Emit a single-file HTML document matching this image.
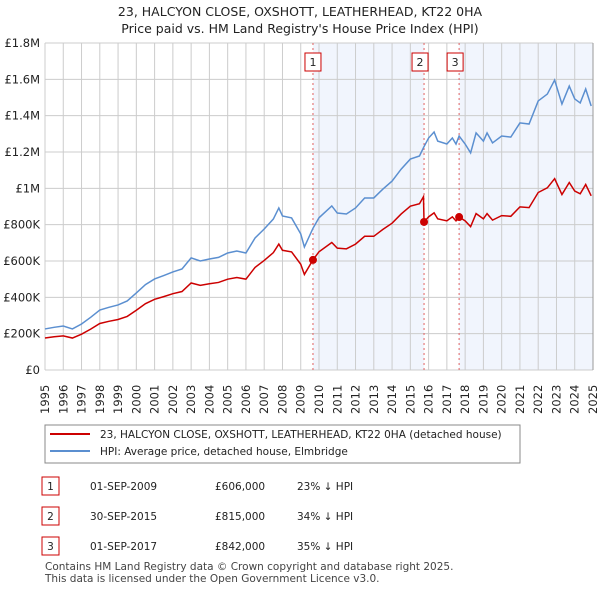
<!DOCTYPE html>
<html><head><meta charset="utf-8"><style>
body{margin:0;background:#fff;font-family:"DejaVu Sans","Liberation Sans",sans-serif;}
svg text{font-family:"DejaVu Sans","Liberation Sans",sans-serif;}
</style></head><body>
<svg id="chart" width="600" height="590" viewBox="0 0 600 590" xmlns="http://www.w3.org/2000/svg">
<text x="300" y="16" text-anchor="middle" font-size="12.5" fill="#222">23, HALCYON CLOSE, OXSHOTT, LEATHERHEAD, KT22 0HA</text>
<text x="300" y="33" text-anchor="middle" font-size="12.5" fill="#222">Price paid vs. HM Land Registry's House Price Index (HPI)</text>
<g id="plot"></g>
<g>
<rect x="45" y="425" width="475" height="38" fill="#fff" stroke="#888"/>
<line x1="50" y1="434" x2="90" y2="434" stroke="#cc0000" stroke-width="2"/>
<text x="100" y="438" font-size="10.5" fill="#222">23, HALCYON CLOSE, OXSHOTT, LEATHERHEAD, KT22 0HA (detached house)</text>
<line x1="50" y1="451" x2="90" y2="451" stroke="#5b8fd0" stroke-width="2"/>
<text x="100" y="455" font-size="10.5" fill="#222">HPI: Average price, detached house, Elmbridge</text>
</g>
<g font-size="10.5" fill="#222">
<rect x="42" y="477" width="17" height="18" fill="#fff" stroke="#cc0000"/><text x="50.5" y="490" text-anchor="middle">1</text>
<text x="90" y="490">01-SEP-2009</text><text x="215" y="490">£606,000</text><text x="297" y="490">23% ↓ HPI</text>
<rect x="42" y="507" width="17" height="18" fill="#fff" stroke="#cc0000"/><text x="50.5" y="520" text-anchor="middle">2</text>
<text x="90" y="520">30-SEP-2015</text><text x="215" y="520">£815,000</text><text x="297" y="520">34% ↓ HPI</text>
<rect x="42" y="537" width="17" height="18" fill="#fff" stroke="#cc0000"/><text x="50.5" y="550" text-anchor="middle">3</text>
<text x="90" y="550">01-SEP-2017</text><text x="215" y="550">£842,000</text><text x="297" y="550">35% ↓ HPI</text>
</g>
<text x="45" y="570" font-size="10.5" fill="#444">Contains HM Land Registry data © Crown copyright and database right 2025.</text>
<text x="45" y="582" font-size="10.5" fill="#444">This data is licensed under the Open Government Licence v3.0.</text>
</svg>
<script>
const hpiYears=[1995.0,1995.5,1996.0,1996.5,1997.0,1997.5,1998.0,1998.5,1999.0,1999.5,2000.0,2000.5,2001.0,2001.5,2002.0,2002.5,2003.0,2003.5,2004.0,2004.5,2005.0,2005.5,2006.0,2006.5,2007.0,2007.5,2007.8,2008.0,2008.5,2009.0,2009.2,2009.67,2010.0,2010.7,2011.0,2011.5,2012.0,2012.5,2013.0,2013.5,2014.0,2014.5,2015.0,2015.5,2015.74,2016.0,2016.3,2016.5,2017.0,2017.3,2017.5,2017.67,2018.0,2018.3,2018.6,2019.0,2019.2,2019.5,2020.0,2020.5,2021.0,2021.5,2022.0,2022.5,2022.9,2023.3,2023.7,2024.0,2024.3,2024.6,2024.9];
const hpiValues=[226,235,242,226,253,290,330,345,358,380,424,470,501,520,540,556,617,600,611,620,644,655,644,727,776,831,892,848,837,749,677,780,838,903,864,859,892,947,947,996,1040,1106,1161,1178,1228,1277,1310,1260,1244,1277,1244,1288,1244,1195,1305,1260,1305,1250,1288,1282,1360,1354,1481,1519,1596,1464,1563,1492,1470,1547,1453];
const priceYears=[1995.0,1995.5,1996.0,1996.5,1997.0,1997.5,1998.0,1998.5,1999.0,1999.5,2000.0,2000.5,2001.0,2001.5,2002.0,2002.5,2003.0,2003.5,2004.0,2004.5,2005.0,2005.5,2006.0,2006.5,2007.0,2007.5,2007.8,2008.0,2008.5,2009.0,2009.2,2009.67,2010.0,2010.7,2011.0,2011.5,2012.0,2012.5,2013.0,2013.5,2014.0,2014.5,2015.0,2015.5,2015.72,2015.75,2016.0,2016.3,2016.5,2017.0,2017.3,2017.5,2017.67,2018.0,2018.3,2018.6,2019.0,2019.2,2019.5,2020.0,2020.5,2021.0,2021.5,2022.0,2022.5,2022.9,2023.3,2023.7,2024.0,2024.3,2024.6,2024.9];
const priceValues=[176,183,188,176,197,225,256,268,278,295,329,365,389,404,420,432,479,466,475,482,500,509,500,565,603,646,693,659,650,582,526,606,651,702,671,667,693,736,736,774,808,859,902,915,954,815,843,865,832,821,843,821,842,821,789,861,832,861,825,850,846,898,894,977,1003,1053,966,1032,985,970,1021,959];
const saleLabels=["1","2","3"];
const saleYears=[2009.67,2015.75,2017.67];
const saleValues=[606,815,842];
const yTicks=[0,200,400,600,800,1000,1200,1400,1600,1800];
const yTickLabels=["£0","£200K","£400K","£600K","£800K","£1M","£1.2M","£1.4M","£1.6M","£1.8M"];
const xTicks=[1995,1996,1997,1998,1999,2000,2001,2002,2003,2004,2005,2006,2007,2008,2009,2010,2011,2012,2013,2014,2015,2016,2017,2018,2019,2020,2021,2022,2023,2024,2025];

const NS="http://www.w3.org/2000/svg";
const X0=45,X1=593,Y0=370,Y1=43;
const xs=y=>X0+(y-1995)/(2025-1995)*(X1-X0);
const ys=v=>Y0-v/1800*(Y0-Y1);
const plot=document.getElementById('plot');
function mk(tag,attrs,parent){const e=document.createElementNS(NS,tag);for(const k in attrs)e.setAttribute(k,attrs[k]);(parent||plot).appendChild(e);return e;}
// shading
[[0,1],[2,null]].forEach(([a,b])=>{
  const r=mk('rect',{x:xs(saleYears[a]),y:Y1,width:(b===null?X1:xs(saleYears[b]))-xs(saleYears[a]),height:Y0-Y1,fill:'#eef3fc',opacity:0.8});
  
  
});
yTicks.forEach((t,i)=>{
  const l=mk('line',{x1:X0,x2:X1,y1:ys(t),y2:ys(t),stroke:'#cccccc','stroke-width':1});
  
  
  const tx=mk('text',{x:40,y:ys(t)+4,'text-anchor':'end','font-size':11.5,fill:'#222'});
  tx.textContent=yTickLabels[i];
  
  
});
xTicks.forEach(t=>{
  const l=mk('line',{x1:xs(t),x2:xs(t),y1:Y1,y2:Y0,stroke:'#cccccc','stroke-width':1});
  
  
  const tx=mk('text',{x:0,y:0,transform:`translate(${xs(t)+4},${414}) rotate(-90)`,'font-size':11.5,fill:'#222'});
  tx.textContent=t;
  
  
});
saleYears.forEach((y,i)=>{
  const l=mk('line',{x1:xs(y),x2:xs(y),y1:Y1,y2:Y0,stroke:'#e06060','stroke-width':1,'stroke-dasharray':'2,3'});
  
  
  const r=mk('rect',{x:xs(y)-8-(i==0?0:4),y:53,width:16,height:18,fill:'#fff',stroke:'#cc0000'});
  
  
  const tx=mk('text',{x:xs(y)-(i==0?0:4),y:66,'text-anchor':'middle','font-size':11,fill:'#222'});
  tx.textContent=saleLabels[i];
  
  
});
const hp=mk('polyline',{points:hpiYears.map((y,i)=>xs(y)+','+ys(hpiValues[i])).join(' '),fill:'none',stroke:'#5b8fd0','stroke-width':1.5});


const pp=mk('polyline',{points:priceYears.map((y,i)=>xs(y)+','+ys(priceValues[i])).join(' '),fill:'none',stroke:'#cc0000','stroke-width':1.5});


saleYears.forEach((y,i)=>{
  const c=mk('circle',{cx:xs(y),cy:ys(saleValues[i]),r:4,fill:'#cc0000'});
  
  
});
const rb=mk('line',{x1:X1,x2:X1,y1:Y1,y2:Y0,stroke:'#999','stroke-width':1});


</script>
</body></html>
